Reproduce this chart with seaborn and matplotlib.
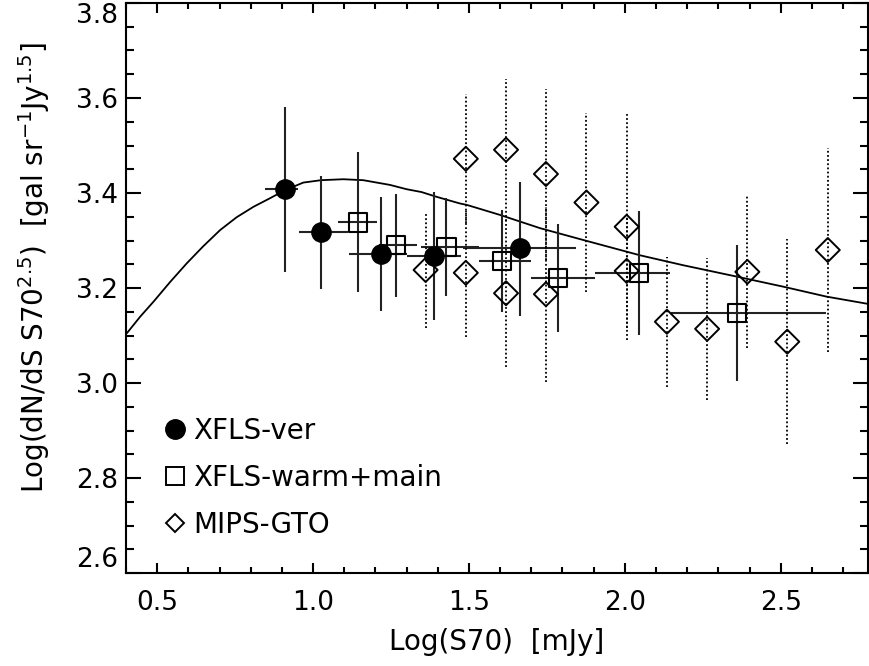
import numpy as np
import pandas as pd
import seaborn as sns
import matplotlib.pyplot as plt
from matplotlib.lines import Line2D
from matplotlib.ticker import MultipleLocator, FormatStrFormatter

# Modelo (curva continua)
model_x = [0.403, 0.446, 0.488, 0.542, 0.595, 0.648, 0.702, 0.755, 0.809, 0.862,
           0.910, 0.969, 1.026, 1.097, 1.161, 1.247, 1.300, 1.348, 1.396, 1.471,
           1.493, 1.599, 1.728, 1.856, 2.048, 2.187, 2.359, 2.507, 2.646, 2.785]
model_y = [3.105, 3.140, 3.171, 3.213, 3.252, 3.288, 3.322, 3.349, 3.371, 3.389,
           3.406, 3.422, 3.427, 3.429, 3.427, 3.417, 3.408, 3.402, 3.392, 3.378,
           3.375, 3.354, 3.326, 3.303, 3.269, 3.248, 3.224, 3.203, 3.182, 3.166]

# XFLS-ver (circulos cheios)
ver_x = [0.910, 1.026, 1.218, 1.389, 1.663]
ver_y = [3.408, 3.317, 3.272, 3.268, 3.284]
ver_xlo = [0.846, 0.955, 1.116, 1.301, 1.480]
ver_xhi = [0.953, 1.112, 1.300, 1.476, 1.845]
ver_ylo = [3.234, 3.198, 3.152, 3.133, 3.142]
ver_yhi = [3.582, 3.436, 3.392, 3.403, 3.424]

# XFLS-warm+main (quadrados)
wm_x = [1.143, 1.265, 1.428, 1.606, 1.787, 2.046, 2.359]
wm_y = [3.338, 3.291, 3.287, 3.257, 3.222, 3.232, 3.148]
wm_xlo = [1.081, 1.210, 1.345, 1.532, 1.700, 1.904, 2.149]
wm_xhi = [1.204, 1.335, 1.532, 1.699, 1.904, 2.144, 2.644]
wm_ylo = [3.191, 3.182, 3.184, 3.149, 3.108, 3.101, 3.005]
wm_yhi = [3.486, 3.397, 3.389, 3.364, 3.335, 3.362, 3.291]

# MIPS-GTO (losangos)
gto_x = [1.361, 1.490, 1.490, 1.619, 1.619, 1.747, 1.747, 1.877, 2.006, 2.006,
         2.135, 2.264, 2.393, 2.521, 2.651]
gto_y = [3.238, 3.472, 3.232, 3.491, 3.189, 3.440, 3.187, 3.380, 3.329, 3.236,
         3.129, 3.114, 3.234, 3.087, 3.280]
gto_err = [0.123, 0.136, 0.135, 0.149, 0.155, 0.180, 0.184, 0.188, 0.238, 0.120,
           0.137, 0.150, 0.160, 0.216, 0.215]

sns.set_style("ticks")
plt.rcParams['font.family'] = ['DejaVu Sans']
plt.rcParams['mathtext.fontset'] = 'dejavusans'
plt.rcParams['text.color'] = 'black'
plt.rcParams['axes.labelcolor'] = 'black'
plt.rcParams['xtick.color'] = 'black'
plt.rcParams['ytick.color'] = 'black'
plt.rcParams['axes.edgecolor'] = 'black'

fig = plt.figure(figsize=(8.7, 6.66), dpi=100)
ax = fig.add_axes([0.1448, 0.1396, 0.8529, 0.8559])

df_model = pd.DataFrame({'x': model_x, 'y': model_y})
sns.lineplot(data=df_model, x='x', y='y', ax=ax, color='black', linewidth=1.3,
             sort=True, estimator=None)

ecol = '#222222'
# barras de erro
vx = np.array(ver_x)
vy = np.array(ver_y)
ax.errorbar(vx, vy, xerr=[vx - np.array(ver_xlo), np.array(ver_xhi) - vx],
            yerr=[vy - np.array(ver_ylo), np.array(ver_yhi) - vy],
            fmt='none', ecolor=ecol, elinewidth=1.5, capsize=0, zorder=2)
wx = np.array(wm_x)
wy = np.array(wm_y)
ax.errorbar(wx, wy, xerr=[wx - np.array(wm_xlo), np.array(wm_xhi) - wx],
            yerr=[wy - np.array(wm_ylo), np.array(wm_yhi) - wy],
            fmt='none', ecolor=ecol, elinewidth=1.5, capsize=0, zorder=2)
eb = ax.errorbar(gto_x, gto_y, yerr=gto_err, fmt='none', ecolor='black',
                 elinewidth=1.3, capsize=0, zorder=2)
for c in eb[2]:
    c.set_linestyle((0, (1, 1.3)))

# marcadores
df_ver = pd.DataFrame({'x': ver_x, 'y': ver_y})
df_wm = pd.DataFrame({'x': wm_x, 'y': wm_y})
df_gto = pd.DataFrame({'x': gto_x, 'y': gto_y})
sns.scatterplot(data=df_ver, x='x', y='y', ax=ax, marker='o', s=190,
                color='black', edgecolor='black', zorder=3)
sns.scatterplot(data=df_wm, x='x', y='y', ax=ax, marker='s', s=170,
                facecolor='none', edgecolor='black', linewidth=1.5, zorder=3)
sns.scatterplot(data=df_gto, x='x', y='y', ax=ax, marker='D', s=150,
                facecolor='none', edgecolor='black', linewidth=1.4, zorder=3)

ax.set_xlim(0.4, 2.78)
ax.set_ylim(2.6, 3.8)
ax.xaxis.set_major_locator(MultipleLocator(0.5))
ax.xaxis.set_minor_locator(MultipleLocator(0.1))
ax.yaxis.set_major_locator(MultipleLocator(0.2))
ax.yaxis.set_minor_locator(MultipleLocator(0.05))
ax.xaxis.set_major_formatter(FormatStrFormatter('%.1f'))
ax.yaxis.set_major_formatter(FormatStrFormatter('%.1f'))
ax.tick_params(which='both', direction='in', top=True, right=True,
               labelsize=19, width=1.5)
ax.tick_params(axis='x', which='major', length=7.5, pad=12)
ax.tick_params(axis='x', which='minor', length=4)
ax.tick_params(axis='y', which='major', length=11, pad=6)
ax.tick_params(axis='y', which='minor', length=6)
for sp in ax.spines.values():
    sp.set_linewidth(1.5)

# rotulos das extremidades ficam dentro do eixo, como no original
fig.canvas.draw()
for tick in ax.yaxis.get_major_ticks():
    loc = tick.get_loc()
    if abs(loc - 2.6) < 1e-6:
        tick.label1.set_va('bottom')
    elif abs(loc - 3.8) < 1e-6:
        tick.label1.set_va('top')

ax.set_xlabel('Log(S70)  [mJy]', fontsize=20, labelpad=9)
ax.set_ylabel(r'Log(dN/dS S70$^{2.5}$)  [gal sr$^{-1}$Jy$^{1.5}$]', fontsize=20)
ax.yaxis.set_label_coords(-0.1, 0.535)

handles = [
    Line2D([], [], marker='o', linestyle='none', color='black', markersize=14),
    Line2D([], [], marker='s', linestyle='none', markerfacecolor='none',
           markeredgecolor='black', markersize=12.5, markeredgewidth=1.4),
    Line2D([], [], marker='D', linestyle='none', markerfacecolor='none',
           markeredgecolor='black', markersize=9.5, markeredgewidth=1.4),
]
ax.legend(handles, ['XFLS-ver', 'XFLS-warm+main', 'MIPS-GTO'], loc='lower left',
          frameon=False, fontsize=20, handlelength=0.8, handletextpad=0.25,
          labelspacing=0.68, borderaxespad=0, borderpad=0,
          bbox_to_anchor=(0.051, 0.06))

fig.savefig('out.png', dpi=100)
